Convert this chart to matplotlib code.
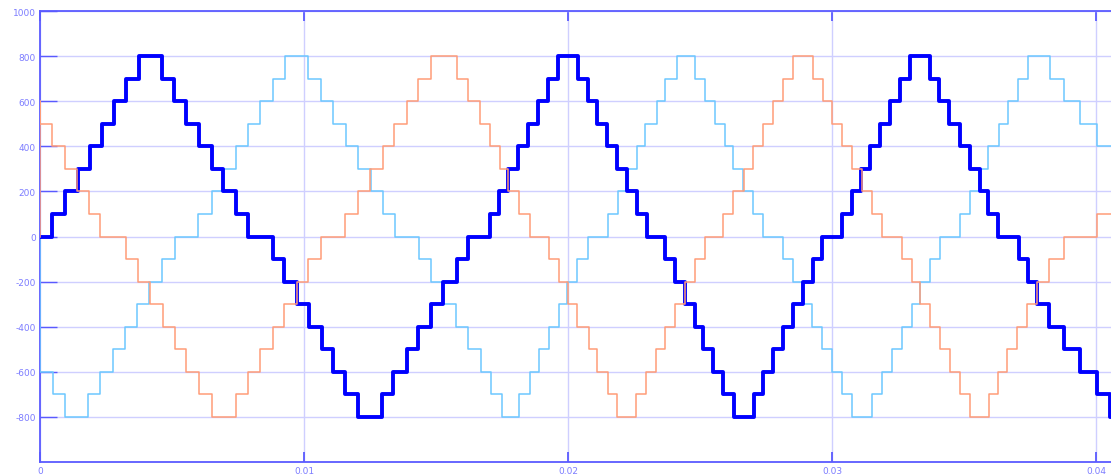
import matplotlib; matplotlib.use('Agg')
import matplotlib.pyplot as plt

plt.rcParams['axes.unicode_minus'] = False

# switching instants (ms) and levels for each phase
t_a = [0, 0.466, 0.947, 1.428, 1.894, 2.337, 2.814, 3.258, 3.761,
       4.633, 5.076, 5.530, 6.034, 6.504, 6.943, 7.424, 7.890, 8.814, 9.242, 9.723, 10.201, 10.670, 11.110, 11.553, 12.057,
       12.943, 13.383, 13.890, 14.330, 14.811, 15.254, 15.784, 16.223, 17.045, 17.398, 17.739, 18.117, 18.496, 18.875, 19.231, 19.633,
       20.390, 20.769, 21.110, 21.489, 21.845, 22.223, 22.602, 22.981, 23.674, 24.053, 24.432, 24.811, 25.125, 25.504, 25.883, 26.288,
       27.045, 27.398, 27.777, 28.155, 28.534, 28.890, 29.269, 29.610, 30.367, 30.746, 31.098, 31.439, 31.818, 32.197, 32.576, 32.955,
       33.712, 34.064, 34.443, 34.822, 35.201, 35.580, 35.909, 36.288, 37.057, 37.424, 37.765, 38.220, 38.761, 39.394, 40.027, 40.530, 41.0]
v_a = [0, 100, 200, 300, 400, 500, 600, 700, 800,
       700, 600, 500, 400, 300, 200, 100, 0, -100, -200, -300, -400, -500, -600, -700, -800,
       -700, -600, -500, -400, -300, -200, -100, 0, 100, 200, 300, 400, 500, 600, 700, 800,
       700, 600, 500, 400, 300, 200, 100, 0, -100, -200, -300, -400, -500, -600, -700, -800,
       -700, -600, -500, -400, -300, -200, -100, 0, 100, 200, 300, 400, 500, 600, 700, 800,
       700, 600, 500, 400, 300, 200, 100, 0, -100, -200, -300, -400, -500, -600, -700, -800, -800]

t_b = [0, 0, 0.504, 0.947,
       1.830, 2.273, 2.754, 3.220, 3.686, 4.140, 4.633, 5.114, 5.996, 6.504, 6.943, 7.424, 7.890, 8.333, 8.814, 9.280,
       10.163, 10.633, 11.110, 11.591, 12.057, 12.527, 12.981, 13.447, 14.367, 14.811, 15.265, 15.758, 16.223, 16.693, 17.072, 17.489,
       18.155, 18.561, 18.913, 19.292, 19.670, 19.973, 20.330, 20.769, 21.527, 21.905, 22.223, 22.602, 22.917, 23.360, 23.674, 24.117,
       24.811, 25.189, 25.568, 25.947, 26.261, 26.640, 27.019, 27.398, 28.155, 28.534, 28.852, 29.231, 29.610, 29.989, 30.367, 30.746,
       31.504, 31.883, 32.261, 32.640, 33.019, 33.333, 33.712, 34.091, 34.848, 35.201, 35.542, 35.920, 36.299, 36.655, 37.019, 37.413,
       38.231, 38.761, 39.394, 40.027, 41.0]
v_b = [0, -600, -700, -800,
       -700, -600, -500, -400, -300, -200, -100, 0, 100, 200, 300, 400, 500, 600, 700, 800,
       700, 600, 500, 400, 300, 200, 100, 0, -100, -200, -300, -400, -500, -600, -700, -800,
       -700, -600, -500, -400, -300, -200, -100, 0, 100, 200, 300, 400, 500, 600, 700, 800,
       700, 600, 500, 400, 300, 200, 100, 0, -100, -200, -300, -400, -500, -600, -700, -800,
       -700, -600, -500, -400, -300, -200, -100, 0, 100, 200, 300, 400, 500, 600, 700, 800,
       700, 600, 500, 400, 400]

t_c = [0, 0, 0, 0.443, 0.947, 1.390, 1.867, 2.273, 3.258, 3.701, 4.167, 4.648, 5.114, 5.530, 6.023, 6.527,
       7.424, 7.867, 8.333, 8.814, 9.254, 9.723, 10.163, 10.633, 11.553, 12.057, 12.500, 12.981, 13.420, 13.890, 14.330, 14.811,
       15.784, 16.223, 16.667, 17.045, 17.424, 17.739, 18.155, 18.561, 19.292, 19.670, 20.011, 20.330, 20.807, 21.110, 21.527, 21.867,
       22.576, 22.955, 23.333, 23.674, 24.053, 24.432, 24.811, 25.189, 25.883, 26.250, 26.667, 27.019, 27.398, 27.777, 28.155, 28.534,
       29.292, 29.648, 29.989, 30.367, 30.746, 31.125, 31.504, 31.883, 32.640, 33.019, 33.333, 33.712, 34.091, 34.470, 34.848, 35.227,
       35.947, 36.269, 36.617, 37.008, 37.375, 37.765, 38.220, 38.761, 40.027, 41.0]
v_c = [0, 600, 500, 400, 300, 200, 100, 0, -100, -200, -300, -400, -500, -600, -700, -800,
       -700, -600, -500, -400, -300, -200, -100, 0, 100, 200, 300, 400, 500, 600, 700, 800,
       700, 600, 500, 400, 300, 200, 100, 0, -100, -200, -300, -400, -500, -600, -700, -800,
       -700, -600, -500, -400, -300, -200, -100, 0, 100, 200, 300, 400, 500, 600, 700, 800,
       700, 600, 500, 400, 300, 200, 100, 0, -100, -200, -300, -400, -500, -600, -700, -800,
       -700, -600, -500, -400, -300, -200, -100, 0, 100, 100]

yticks = [-800, -600, -400, -200, 0, 200, 400, 600, 800, 1000]
xticks = [0, 0.01, 0.02, 0.03, 0.04]
xlabels = ['0', '0.01', '0.02', '0.03', '0.04']

axis_col = '#5a5aff'
grid_col = '#cfcfff'
lab_col = '#7c7cff'

fig = plt.figure(figsize=(11.11, 4.77), dpi=100)
ax = fig.add_axes([40/1111, 14/477, 1080/1111, 451/477])
ax.set_xlim(0, 0.0409)
ax.set_ylim(-1000, 1000)

ax.plot([t/1000 for t in t_b], v_b, drawstyle='steps-post', color='#6cc8ff', lw=1.1, zorder=3)
ax.plot([t/1000 for t in t_a], v_a, drawstyle='steps-post', color='#0000ff', lw=2.8, zorder=4)
ax.plot([t/1000 for t in t_c], v_c, drawstyle='steps-post', color='#ff9c78', lw=1.1, zorder=5)

ax.set_yticks(yticks)
ax.set_yticklabels([str(v) for v in yticks])
ax.set_xticks(xticks)
ax.set_xticklabels(xlabels)
ax.grid(True, color=grid_col, lw=1.0)
ax.set_axisbelow(True)

for s in ['left', 'top', 'bottom']:
    ax.spines[s].set_color(axis_col)
    ax.spines[s].set_linewidth(1.3)
ax.spines['right'].set_visible(False)

ax.tick_params(axis='y', direction='in', length=12, width=1.0, color=axis_col,
               labelsize=6.5, labelcolor=lab_col, pad=3)
ax.tick_params(axis='x', direction='in', length=7, width=1.3, color=axis_col,
               labelsize=6.5, labelcolor=lab_col, pad=3, top=True)

fig.savefig('out.png', dpi=100, facecolor='white')
